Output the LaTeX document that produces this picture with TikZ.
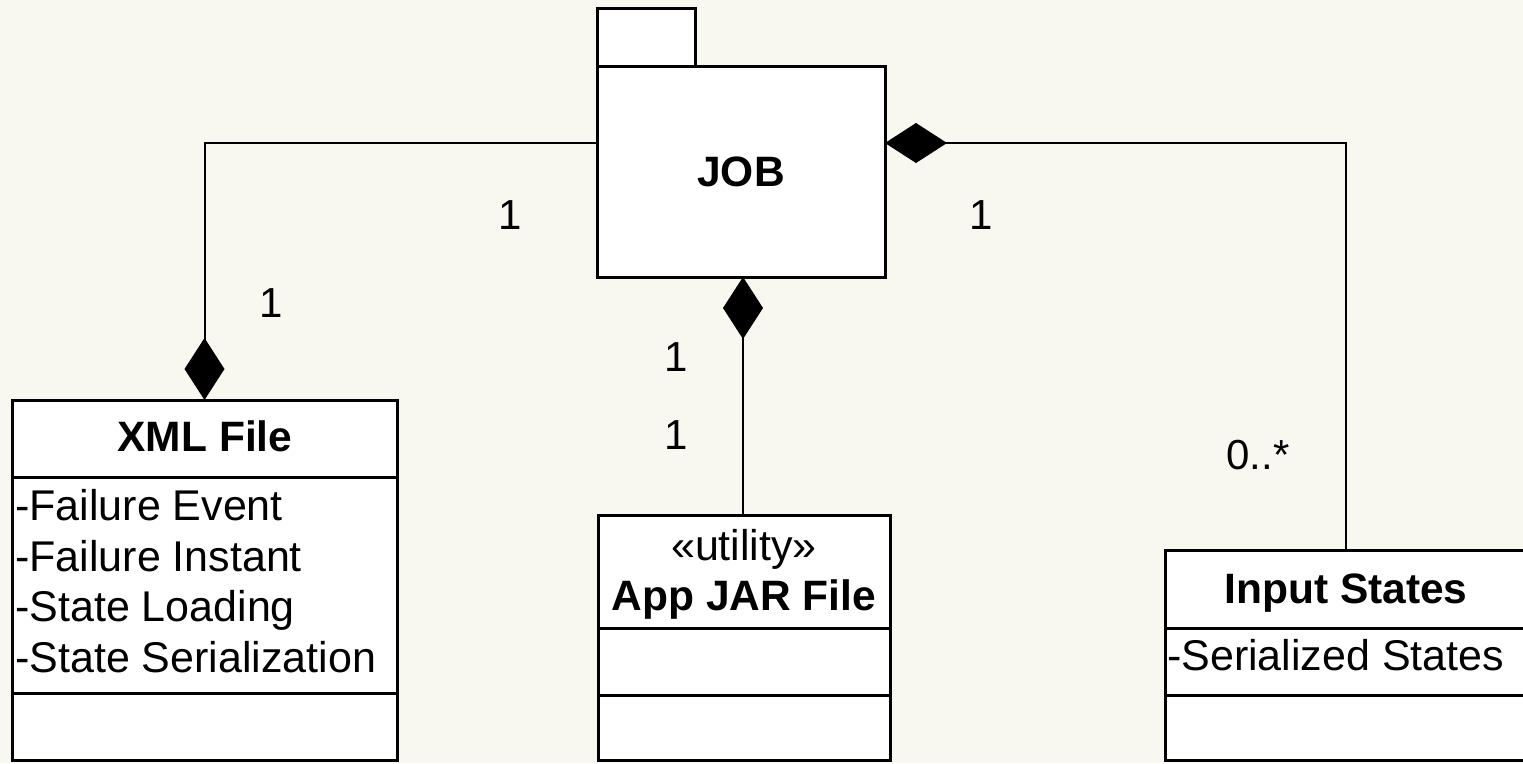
\documentclass[tikz,border=0pt]{standalone}
\usepackage{fontspec}
\setmainfont{Liberation Sans}
\usetikzlibrary{arrows.meta}
\definecolor{bgcol}{RGB}{248,248,240}
\tikzset{
  box/.style={draw=black, line width=3pt, fill=white, inner sep=0pt, outer sep=0pt},
  conn/.style={draw=black, line width=2pt},
  big/.style={font=\fontsize{43}{50}\selectfont},
  title/.style={font=\bfseries\fontsize{42.5}{50}\selectfont},
  attr/.style={font=\fontsize{43}{50}\selectfont, anchor=base west, inner sep=0pt},
  mult/.style={font=\fontsize{42}{50}\selectfont, inner sep=0pt}
}
\begin{document}
\begin{tikzpicture}[x=1pt,y=-1pt]
\useasboundingbox (0,0) rectangle (1523,763);
\clip (0,0) rectangle (1523,763);
\fill[bgcol] (0,0) rectangle (1523,763);

% JOB package
\node[box, anchor=north west, minimum width=288pt, minimum height=211pt, title] (job) at (597,66) {JOB};
\node[box, anchor=south west, minimum width=98pt, minimum height=58pt] (tab) at (job.north west) {};

% XML File class
\node[box, anchor=north west, minimum width=385pt, minimum height=77pt] (xmlhead) at (12,400) {};
\node[box, anchor=north west, minimum width=385pt, minimum height=216pt] (xmlattr) at (xmlhead.south west) {};
\node[box, anchor=north west, minimum width=385pt, minimum height=67pt] (xmlops) at (xmlattr.south west) {};
\node[title, anchor=base, inner sep=0pt] (xmlname) at (205,451) {XML File};
\node[attr] (a1) at (15,520) {-Failure Event};
\node[attr] (a2) at (15,571) {-Failure Instant};
\node[attr] (a3) at (15,621) {-State Loading};
\node[attr] (a4) at (15,672) {-State Serialization};

% App JAR File class
\node[box, anchor=north west, minimum width=292pt, minimum height=113pt] (apphead) at (598,515) {};
\node[box, anchor=north west, minimum width=292pt, minimum height=67pt] (appattr) at (apphead.south west) {};
\node[box, anchor=north west, minimum width=292pt, minimum height=65pt] (appops) at (appattr.south west) {};
\node[big, anchor=base, inner sep=0pt] (stereo) at (744,560) {«utility»};
\node[title, anchor=base, inner sep=0pt] (appname) at (744,610) {App JAR File};

% Input States class
\node[box, anchor=north west, minimum width=362pt, minimum height=78pt] (inhead) at (1165,550) {};
\node[box, anchor=north west, minimum width=362pt, minimum height=67pt] (inattr) at (inhead.south west) {};
\node[box, anchor=north west, minimum width=362pt, minimum height=65pt] (inops) at (inattr.south west) {};
\node[title, anchor=base, inner sep=0pt] (inname) at (1346,603) {Input States};
\node[attr] (b1) at (1167,670) {-Serialized States};

% connectors
\coordinate (jobL) at (597,143);
\coordinate (jobR) at (885,143);
\draw[conn, -{Diamond[length=62pt,width=40pt]}] (jobL) -| (xmlhead.north);
\draw[conn, {Diamond[length=62pt,width=40pt]}-] (jobR) -| (inhead.north);
\draw[conn, {Diamond[length=62pt,width=40pt]}-] (job.south -| 743,0) -- (apphead.north -| 743,0);

% multiplicities
\node[mult] (m1) at (510,215) {1};
\node[mult] (m2) at (981,215) {1};
\node[mult] (m3) at (271,303) {1};
\node[mult] (m4) at (676,357) {1};
\node[mult] (m5) at (676,435) {1};
\node[mult] (m6) at (1258,455) {0..*};
\end{tikzpicture}
\end{document}
